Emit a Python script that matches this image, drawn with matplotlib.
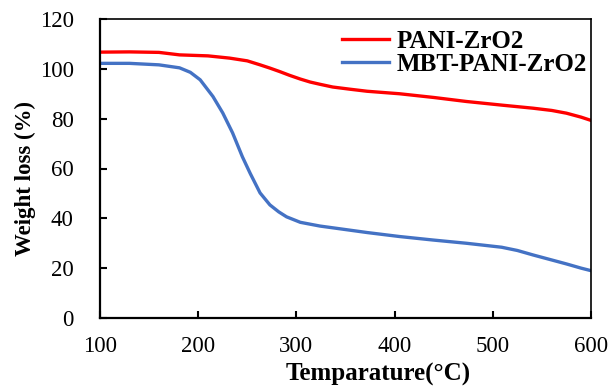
import matplotlib
matplotlib.use("Agg")
import matplotlib.pyplot as plt
import numpy as np

# TGA curves
temp_pani = [100, 130, 160, 181, 210, 232, 250, 263, 273, 283, 293, 304, 314, 324,
             337, 355, 372, 405, 440, 473, 510, 541, 560, 575, 590, 600]
wl_pani = [106.7, 106.8, 106.6, 105.6, 105.2, 104.3, 103.2, 101.6, 100.3, 98.9,
           97.4, 95.9, 94.7, 93.8, 92.7, 91.8, 91.0, 90.0, 88.5, 86.9, 85.4,
           84.2, 83.3, 82.2, 80.6, 79.3]

temp_mbt = [100, 130, 160, 181, 192, 202, 215, 225, 235, 245, 253, 263, 273, 282,
            290, 304, 324, 337, 372, 405, 439, 473, 509, 525, 541, 558, 575, 590, 600]
wl_mbt = [102.2, 102.2, 101.6, 100.4, 98.6, 95.6, 88.9, 82.3, 74.3, 64.7, 58.0,
          50.2, 45.4, 42.6, 40.6, 38.4, 36.9, 36.2, 34.3, 32.7, 31.3, 30.0, 28.4,
          27.1, 25.3, 23.5, 21.7, 20.0, 19.0]

plt.rcParams['font.family'] = ['Liberation Serif', 'DejaVu Serif']

fig = plt.figure(figsize=(6.08, 3.87), dpi=100)
ax = fig.add_axes([100 / 608, 69 / 387, 491 / 608, 299 / 387])

ax.plot(temp_pani, wl_pani, color='#ff0000', linewidth=2.4, label='PANI-ZrO2')
ax.plot(temp_mbt, wl_mbt, color='#4472c4', linewidth=2.4, label='MBT-PANI-ZrO2')

ax.set_xlim(100, 600)
ax.set_ylim(0, 120)
ax.set_xticks(np.arange(100, 601, 100))
ax.set_yticks(np.arange(0, 121, 20))
ax.tick_params(direction='in', length=5, width=1.5, labelsize=16.5)
ax.tick_params(axis='y', pad=19)
ax.tick_params(axis='x', pad=13)
for s in ['left', 'bottom']:
    ax.spines[s].set_linewidth(1.6)
for s in ['top', 'right']:
    ax.spines[s].set_linewidth(1.2)

ax.set_xlabel('Temparature(°C)', fontsize=18, fontweight='bold', va='baseline')
ax.set_ylabel('Weight loss (%)', fontsize=16.5, fontweight='bold')
ax.xaxis.set_label_coords(0.567, -0.21)
ax.yaxis.set_label_coords(-0.13, 0.468)

leg = ax.legend(loc='upper right', bbox_to_anchor=(1.0, 0.975), frameon=False,
                prop={'weight': 'bold', 'size': 18}, handlelength=1.9,
                handletextpad=0.3, labelspacing=0.0, borderaxespad=0.05,
                borderpad=0.1)

plt.savefig('out.png', dpi=100)
